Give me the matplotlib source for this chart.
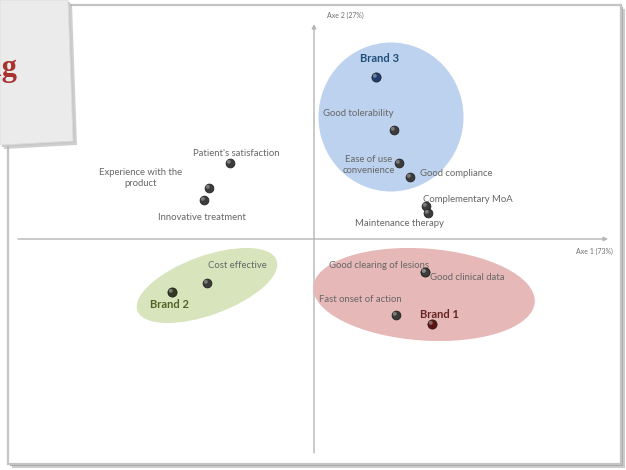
import matplotlib.pyplot as plt
from matplotlib.patches import Ellipse, Rectangle, Polygon
from matplotlib import transforms

plt.rcParams['font.family'] = ['Lato', 'DejaVu Sans']

# attribute positions on the two factorial axes
attributes = ['Good tolerability', 'Ease of use\nconvenience', 'Good compliance',
              'Complementary MoA', 'Maintenance therapy', "Patient's satisfaction",
              'Experience with the\nproduct', 'Innovative treatment', 'Cost effective',
              'Good clearing of lesions', 'Good clinical data', 'Fast onset of action']
attr_x = [0.80, 0.85, 0.96, 1.12, 1.14, -0.84, -1.05, -1.10, -1.07, 1.11, 1.11, 0.82]
attr_y = [1.09, 0.76, 0.62, 0.33, 0.26, 0.76, 0.51, 0.39, -0.44, -0.33, -0.33, -0.76]

brands = ['Brand 1', 'Brand 2', 'Brand 3']
brand_x = [1.18, -1.42, 0.62]
brand_y = [-0.85, -0.53, 1.62]

# brand clusters (centre, width, height, angle)
cluster_cx = [1.10, -1.07, 0.77]
cluster_cy = [-0.555, -0.465, 1.22]
cluster_w = [2.22, 1.48, 1.45]
cluster_h = [0.92, 0.59, 1.49]
cluster_angle = [-4, 20, 0]

axis_labels = ['Axe 1 (73%)', 'Axe 2 (27%)']

# label placement: (dx, dy) in pixels, ha, va
attr_layout = [(-36, 16, 'center', 'center'), (-4, -2, 'right', 'center'),
               (10, 4, 'left', 'center'), (-3, 6, 'left', 'center'),
               (-29, -10, 'center', 'center'), (6, 10, 'center', 'center'),
               (-68, 10, 'center', 'center'), (-2, -17, 'center', 'center'),
               (30, 17, 'center', 'center'), (4, 7, 'right', 'center'),
               (5, -5, 'left', 'center'), (6, 16, 'right', 'center')]
brand_layout = [(8, 9), (-3, -12), (4, 18)]
brand_fill = ['#e6b8b7', '#d8e4bc', '#bcd2ee']
brand_dot = ['#5c1414', '#323a22', '#1f3d6e']
brand_text = ['#632523', '#4f6228', '#1f4e79']
label_grey = '#666666'

fig = plt.figure(figsize=(6.26, 4.70), dpi=100)
ax = fig.add_axes([0, 0, 1, 1])
ax.set_xlim(-3.14, 3.12)
ax.set_ylim(-2.31, 2.39)
ax.axis('off')


def px(x, y):
    # image pixel -> data units (origin of the factor map at 314, 239)
    return (x - 314) / 100, (239 - y) / 100


# white panel with a soft shadow
x0, y0 = px(8, 464)
x1, y1 = px(621, 5)
ax.add_patch(Rectangle((x0 + 0.035, y0 - 0.035), x1 - x0, y1 - y0,
                       facecolor='#9a9a9a', edgecolor='none', alpha=0.5, zorder=0))
ax.add_patch(Rectangle((x0 + 0.02, y0 - 0.02), x1 - x0, y1 - y0,
                       facecolor='#a8a8a8', edgecolor='none', zorder=0))
ax.add_patch(Rectangle((x0, y0), x1 - x0, y1 - y0, facecolor='white',
                       edgecolor='#c4c4c4', linewidth=1.6, zorder=1))

# factor axes
ax.annotate('', xy=px(608, 239), xytext=px(18, 239),
            arrowprops=dict(arrowstyle='-|>', color='#b5b5b5', lw=1.0,
                            mutation_scale=6, shrinkA=0, shrinkB=0), zorder=2)
ax.annotate('', xy=px(314, 24), xytext=px(314, 453),
            arrowprops=dict(arrowstyle='-|>', color='#b5b5b5', lw=1.0,
                            mutation_scale=6, shrinkA=0, shrinkB=0), zorder=2)
ax.text(*px(594, 251), axis_labels[0], fontsize=5, color='#707070',
        ha='center', va='center', zorder=5)
ax.text(*px(345, 15), axis_labels[1], fontsize=5, color='#707070',
        ha='center', va='center', zorder=5)

# clusters
for cx, cy, w, h, a, fc in zip(cluster_cx, cluster_cy, cluster_w, cluster_h,
                               cluster_angle, brand_fill):
    ax.add_patch(Ellipse((cx, cy), w, h, angle=a, facecolor=fc,
                         edgecolor='none', zorder=3))

hl = transforms.offset_copy(ax.transData, fig=fig, x=-1.2, y=1.2, units='dots')

# attribute points
ax.scatter(attr_x, attr_y, s=40, color='#3b3b3b', edgecolor='#242424',
           linewidth=0.6, zorder=6)
ax.scatter(attr_x, attr_y, s=8, color='#8c8c8c', edgecolor='none',
           alpha=0.8, zorder=7, transform=hl)
for name, x, y, (dx, dy, ha, va) in zip(attributes, attr_x, attr_y, attr_layout):
    ax.annotate(name, (x, y), xytext=(dx, dy), textcoords='offset pixels',
                ha=ha, va=va, fontsize=6.8, color=label_grey,
                multialignment='center', linespacing=1.2, zorder=8)

# brand points
for name, x, y, (dx, dy), dc, tc in zip(brands, brand_x, brand_y, brand_layout,
                                        brand_dot, brand_text):
    ax.scatter([x], [y], s=44, color=dc, edgecolor='#1a1a1a', linewidth=0.5, zorder=6)
    ax.scatter([x], [y], s=8, color='white', edgecolor='none', alpha=0.35,
               zorder=7, transform=hl)
    ax.annotate(name, (x, y), xytext=(dx, dy), textcoords='offset pixels',
                ha='center', va='center', fontsize=8, fontweight='bold',
                color=tc, zorder=8)

# title card in the corner
card = [px(0, 0), px(68, 0), px(73, 141), px(0, 145)]
shadow = [(x + 0.04, y - 0.04) for x, y in card]
ax.add_patch(Polygon(shadow, closed=True, facecolor='#b0b0b0', edgecolor='none',
                     alpha=0.6, zorder=9))
ax.add_patch(Polygon([(x + 0.02, y - 0.02) for x, y in card], closed=True,
                     facecolor='#c8c8c8', edgecolor='none', zorder=9))
ax.add_patch(Polygon(card, closed=True, facecolor='#ebebeb', edgecolor='#dcdcdc',
                     linewidth=0.6, zorder=10))
ax.text(*px(17, 76), 'Positioning', fontsize=22, fontweight='bold',
        family=['Liberation Serif', 'DejaVu Serif'], color='#a8322e',
        ha='right', va='baseline', zorder=11)

fig.savefig('out.png', dpi=100)
